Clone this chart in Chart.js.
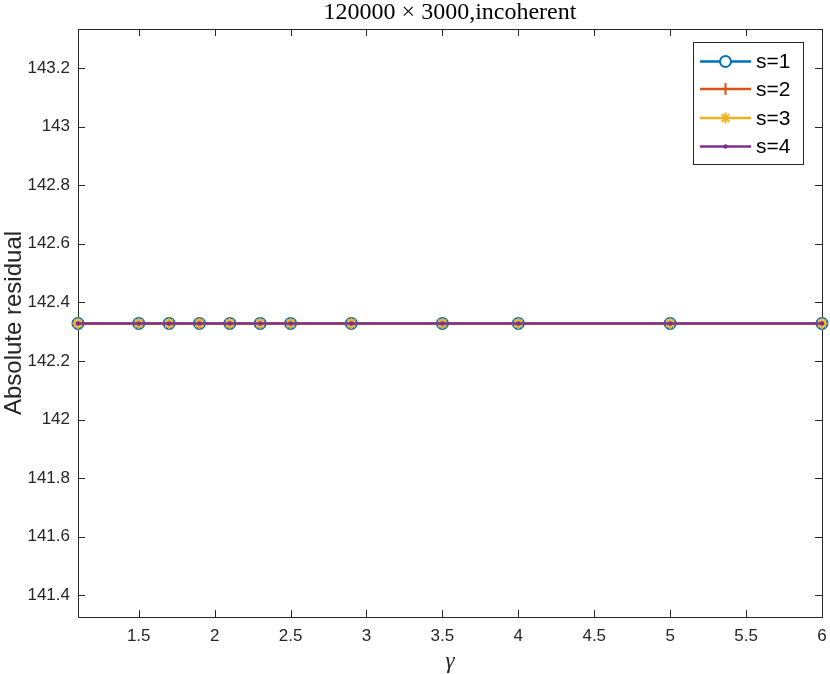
<!DOCTYPE html>
<html>
<head>
<meta charset="utf-8">
<script src="https://cdn.jsdelivr.net/npm/chart.js@4/dist/chart.umd.min.js"></script>
<style>
  html, body { margin: 0; padding: 0; background: #fff; }
  #wrap { width: 830px; height: 674px; }
</style>
</head>
<body>
<div id="wrap"><canvas id="chart" width="830" height="674"></canvas></div>
<script>
const gammaValues = [1.1, 1.5, 1.7, 1.9, 2.1, 2.3, 2.5, 2.9, 3.5, 4, 5, 6];
const residualS1 = [142.328, 142.328, 142.328, 142.328, 142.328, 142.328, 142.328, 142.328, 142.328, 142.328, 142.328, 142.328];
const residualS2 = [142.328, 142.328, 142.328, 142.328, 142.328, 142.328, 142.328, 142.328, 142.328, 142.328, 142.328, 142.328];
const residualS3 = [142.328, 142.328, 142.328, 142.328, 142.328, 142.328, 142.328, 142.328, 142.328, 142.328, 142.328, 142.328];
const residualS4 = [142.328, 142.328, 142.328, 142.328, 142.328, 142.328, 142.328, 142.328, 142.328, 142.328, 142.328, 142.328];
const seriesLabels = ['s=1', 's=2', 's=3', 's=4'];
const xTicks = [1.5, 2, 2.5, 3, 3.5, 4, 4.5, 5, 5.5, 6];
const yTicks = [141.4, 141.6, 141.8, 142, 142.2, 142.4, 142.6, 142.8, 143, 143.2];
const chartTitle = '120000 \u00d7 3000,incoherent';

const axisColor = '#262626';
const sans = "'Liberation Sans', Arial, Helvetica, sans-serif";
const serif = "'Liberation Serif', 'DejaVu Serif', serif";

const toPoints = (ys) => gammaValues.map((x, i) => ({ x: x, y: ys[i] }));

const styles = [
    { color: '#0072BD', pointStyle: 'circle', radius: 5.5, fill: false },
    { color: '#D95319', pointStyle: 'cross', radius: 6, fill: false },
    { color: '#EDB120', pointStyle: 'star', radius: 5.5, fill: false },
    { color: '#7E2F8E', pointStyle: 'circle', radius: 1.2, fill: true }
];
const allSeries = [residualS1, residualS2, residualS3, residualS4];

const datasets = allSeries.map((ys, i) => ({
    label: seriesLabels[i],
    data: toPoints(ys),
    borderColor: styles[i].color,
    backgroundColor: styles[i].fill ? styles[i].color : 'rgba(0,0,0,0)',
    borderWidth: 2.5,
    pointStyle: styles[i].pointStyle,
    pointRadius: styles[i].radius,
    pointBorderWidth: 2,
    pointBorderColor: styles[i].color,
    pointBackgroundColor: styles[i].fill ? styles[i].color : 'rgba(0,0,0,0)',
    order: 4 - i,
    clip: false,
    tension: 0
}));

// box with inward ticks on all four sides, MATLAB style
const boxPlugin = {
    id: 'box',
    beforeDatasetsDraw(chart) {
        const { ctx, chartArea: a, scales } = chart;
        const len = 7;
        ctx.save();
        ctx.strokeStyle = axisColor;
        ctx.lineWidth = 1;
        ctx.strokeRect(a.left + 0.5, a.top + 0.5, a.right - a.left, a.bottom - a.top);
        ctx.beginPath();
        xTicks.forEach(v => {
            const px = Math.round(scales.x.getPixelForValue(v)) + 0.5;
            ctx.moveTo(px, a.bottom); ctx.lineTo(px, a.bottom - len);
            ctx.moveTo(px, a.top); ctx.lineTo(px, a.top + len);
        });
        yTicks.forEach(v => {
            const py = Math.round(scales.y.getPixelForValue(v)) + 0.5;
            ctx.moveTo(a.left, py); ctx.lineTo(a.left + len, py);
            ctx.moveTo(a.right, py); ctx.lineTo(a.right - len, py);
        });
        ctx.stroke();
        // title centred over the plot box
        ctx.fillStyle = '#000';
        ctx.font = '24px ' + serif;
        ctx.textAlign = 'center';
        ctx.textBaseline = 'middle';
        ctx.fillText(chartTitle, (a.left + a.right) / 2, 13);
        ctx.restore();
    }
};

// legend box in the top right corner
const legendPlugin = {
    id: 'boxLegend',
    afterDatasetsDraw(chart) {
        const { ctx } = chart;
        const x0 = 693, y0 = 42, w = 110, h = 122;
        ctx.save();
        ctx.fillStyle = '#fff';
        ctx.fillRect(x0, y0, w, h);
        ctx.strokeStyle = axisColor;
        ctx.lineWidth = 1;
        ctx.strokeRect(x0 + 0.5, y0 + 0.5, w, h);
        const rows = [61.5, 89, 118, 146.5];
        chart.data.datasets.forEach((ds, i) => {
            const y = rows[i];
            ctx.strokeStyle = ds.borderColor;
            ctx.lineWidth = 2.5;
            ctx.beginPath();
            ctx.moveTo(700, y); ctx.lineTo(751, y);
            ctx.stroke();
            ctx.lineWidth = 2;
            Chart.helpers.drawPoint(ctx, {
                pointStyle: ds.pointStyle, radius: ds.pointRadius, borderWidth: 2, rotation: 0
            }, 725.5, y);
            ctx.fillStyle = ds.pointBackgroundColor;
            if (ds.pointRadius < 2) { ctx.beginPath(); ctx.arc(725.5, y, ds.pointRadius, 0, Math.PI * 2); ctx.fill(); }
            ctx.fillStyle = '#000';
            ctx.font = '21px ' + sans;
            ctx.textBaseline = 'middle';
            ctx.textAlign = 'left';
            ctx.fillText(ds.label, 756, y + 1);
        });
        ctx.restore();
    }
};

const config = {
    type: 'line',
    data: { datasets: datasets },
    options: {
        responsive: false,
        animation: false,
        layout: { padding: { top: 29, left: 0, right: 7, bottom: 0 } },
        plugins: {
            legend: { display: false },
            tooltip: { enabled: false },
            title: { display: false }
        },
        scales: {
            x: {
                type: 'linear',
                min: 1.1,
                max: 6,
                afterBuildTicks: (scale) => { scale.ticks = xTicks.map(v => ({ value: v })); },
                afterFit: (scale) => { scale.height = 57; scale.paddingLeft = 0; scale.paddingRight = 0; },
                grid: { display: false, drawTicks: false },
                border: { display: false },
                ticks: {
                    color: axisColor,
                    font: { family: sans, size: 17 },
                    padding: 9,
                    maxRotation: 0,
                    callback: (v) => String(v)
                },
                title: {
                    display: true,
                    text: '\u03b3',
                    color: axisColor,
                    font: { family: serif, size: 23, style: 'italic', lineHeight: 1.04 },
                    padding: { top: 0, bottom: 0 }
                }
            },
            y: {
                type: 'linear',
                min: 141.326,
                max: 143.333,
                afterBuildTicks: (scale) => { scale.ticks = yTicks.map(v => ({ value: v })); },
                afterFit: (scale) => { scale.width = 78; scale.paddingTop = 0; scale.paddingBottom = 0; },
                grid: { display: false, drawTicks: false },
                border: { display: false },
                ticks: {
                    color: axisColor,
                    font: { family: sans, size: 17 },
                    padding: 8,
                    callback: (v) => String(Math.round(v * 10) / 10)
                },
                title: {
                    display: true,
                    text: 'Absolute residual',
                    color: axisColor,
                    font: { family: sans, size: 24 },
                    padding: { top: 0, bottom: 0 }
                }
            }
        }
    },
    plugins: [boxPlugin, legendPlugin]
};

const ctx = document.getElementById('chart');
const residualChart = new Chart(ctx, config);
</script>
</body>
</html>
